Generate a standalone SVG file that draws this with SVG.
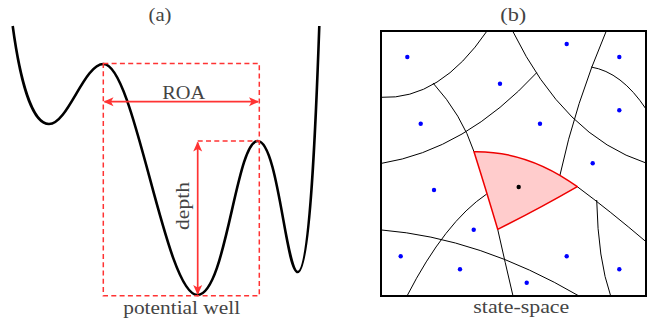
<svg xmlns="http://www.w3.org/2000/svg" width="655" height="325" viewBox="0 0 655 325">
<defs>
<style>
.lbl{font-family:"Liberation Serif","DejaVu Serif",serif;font-size:18px;fill:#444;}
.dash{fill:none;stroke:#f33;stroke-width:1.5;stroke-dasharray:5,3.3;}
.arr{fill:none;stroke:#f33;stroke-width:1.7;}
.cell{fill:none;stroke:#000;stroke-width:1;}
.site{fill:#00f;}
</style>
<marker id="ah" viewBox="0 0 10 10" refX="9" refY="5" markerWidth="10" markerHeight="10" markerUnits="userSpaceOnUse" orient="auto-start-reverse">
<path d="M0,0.5 L10,5 L0,9.5 L2.5,5 Z" fill="#f33"/>
</marker>
</defs>

<g id="panel-a">
<text class="lbl" x="160" y="21" text-anchor="middle" textLength="23" lengthAdjust="spacingAndGlyphs">(a)</text>
<g id="potential-curve">
<path d="M12.7,26 C20,80 32,124 49,124 C68,124 84,64 103.5,64 C135,64 165,295 197.5,295 C226,295 236,141 257.7,141 C278,141 286,272 297.7,272 C310,272 316,120 319.3,26" fill="none" stroke="#000" stroke-width="2.6"/>
</g>
<g id="well-box">
<path class="dash" d="M103.3,63.5 H259.3 V295.7 H103.3 Z"/>
<path class="dash" d="M197.7,141 H259.3"/>
</g>
<g id="connectors-a">
<path class="arr" d="M104.5,101.7 H258" marker-start="url(#ah)" marker-end="url(#ah)"/>
<path class="arr" d="M197.7,142.5 V294" marker-start="url(#ah)" marker-end="url(#ah)"/>
</g>
<text class="lbl" x="183.7" y="99" text-anchor="middle" textLength="43" lengthAdjust="spacingAndGlyphs">ROA</text>
<text class="lbl" transform="translate(189,206) rotate(-90)" text-anchor="middle" textLength="48" lengthAdjust="spacingAndGlyphs">depth</text>
<text class="lbl" x="181.7" y="313.5" text-anchor="middle" textLength="117" lengthAdjust="spacingAndGlyphs">potential well</text>
</g>

<g id="panel-b">
<text class="lbl" x="513.3" y="21" text-anchor="middle" textLength="26" lengthAdjust="spacingAndGlyphs">(b)</text>
<g id="cell-edges">
<path class="cell" d="M381,97.3 Q440,100 487,31"/>
<path class="cell" d="M433,83 Q462,115 474,151.7"/>
<path class="cell" d="M497.7,229.3 Q505,262 513,296"/>
<path class="cell" d="M381.7,163.3 Q464.8,150 536.7,72.7"/>
<path class="cell" d="M513,31.7 Q564.5,136.6 646,163"/>
<path class="cell" d="M606,31.7 Q575.4,103.4 560,175"/>
<path class="cell" d="M591,67 Q621.5,72 646,109"/>
<path class="cell" d="M577.3,186.7 Q610,211 646,241.7"/>
<path class="cell" d="M486.7,194 Q445,222 407,296"/>
<path class="cell" d="M381.7,230 Q480,238 579,296"/>
<path class="cell" d="M596.7,200 Q598,260 610.7,296"/>
</g>
<g id="highlight-cell">
<path d="M474,151.7 Q527.8,150.8 577.3,186.7 Q535,211 497.7,229.3 Q487,193 474,151.7 Z" fill="#ffcccc" stroke="#e00" stroke-width="1.5" stroke-linejoin="round"/>
<circle cx="518.7" cy="187" r="2.2" fill="#000"/>
</g>
<g id="sites">
<circle class="site" cx="407.3" cy="57" r="2.2"/>
<circle class="site" cx="566.7" cy="44" r="2.2"/>
<circle class="site" cx="619.3" cy="57" r="2.2"/>
<circle class="site" cx="500" cy="83.7" r="2.2"/>
<circle class="site" cx="420.7" cy="123.7" r="2.2"/>
<circle class="site" cx="540" cy="123.7" r="2.2"/>
<circle class="site" cx="619.3" cy="110.3" r="2.2"/>
<circle class="site" cx="592.7" cy="163.3" r="2.2"/>
<circle class="site" cx="434" cy="190" r="2.2"/>
<circle class="site" cx="473.7" cy="229.7" r="2.2"/>
<circle class="site" cx="400.7" cy="256.3" r="2.2"/>
<circle class="site" cx="460" cy="269.3" r="2.2"/>
<circle class="site" cx="566.7" cy="256.3" r="2.2"/>
<circle class="site" cx="619.3" cy="269.3" r="2.2"/>
<circle class="site" cx="526.7" cy="282.7" r="2.2"/>
</g>
<rect id="frame" x="381" y="31" width="265" height="265" fill="none" stroke="#000" stroke-width="2"/>
<text class="lbl" x="521.3" y="313" text-anchor="middle" textLength="96" lengthAdjust="spacingAndGlyphs">state-space</text>
</g>
</svg>
